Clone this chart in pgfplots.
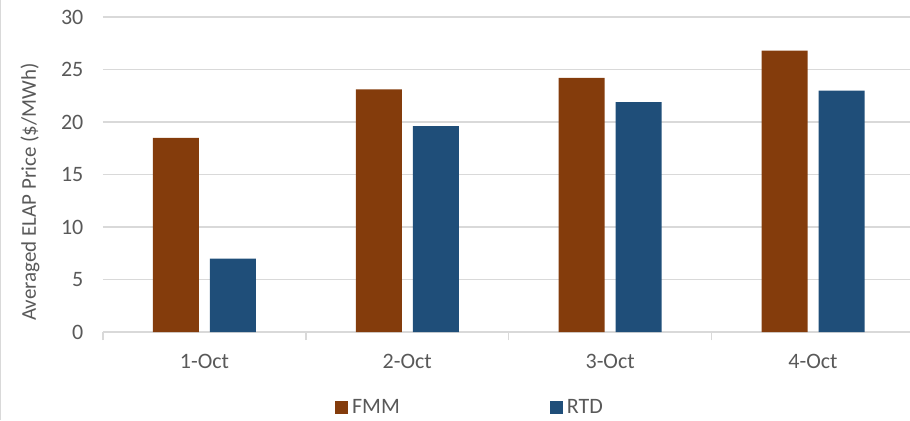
\documentclass[border=0pt]{standalone}
\usepackage{pgfplots}
\pgfplotsset{compat=1.18}
\usepackage{fontspec}
\setmainfont{Carlito}
\definecolor{fmm}{HTML}{843C0C}
\definecolor{rtd}{HTML}{1F4E79}
\definecolor{txt}{HTML}{595959}
\definecolor{gridc}{HTML}{D9D9D9}

\begin{document}
\begin{tikzpicture}
\path[use as bounding box] (0,0) rectangle (455pt,210pt);
\begin{axis}[
  at={(51.5pt,44pt)}, anchor=south west,
  scale only axis, width=403.5pt, height=157.5pt,
  ybar=5.5pt, bar width=23pt,
  xmin=-0.5, xmax=3.478, ymin=0, ymax=30,
  axis x line*=bottom, axis y line*=left,
  x axis line style={draw=gridc, line width=0.75pt},
  y axis line style={draw=none},
  xtick={0,1,2,3}, xticklabels={1-Oct,2-Oct,3-Oct,4-Oct},
  minor xtick={-0.5,0.5,1.5,2.5},
  ytick={0,5,...,30},
  /pgf/number format/assume math mode=true,
  major tick length=0pt,
  minor tick length=4pt,
  tick align=outside,
  minor x tick style={draw=gridc, line width=0.75pt},
  ymajorgrids, grid style={draw=gridc, line width=0.75pt},
  every tick label/.append style={font=\fontsize{11}{13}\selectfont, text=txt},
  yticklabel style={xshift=-6.3pt},
  xticklabel style={yshift=-7.8pt},
  ylabel={Averaged ELAP Price (\$/MWh)},
  ylabel style={at={(axis description cs:-0.0905,0.444)}, anchor=center,
    font=\fontsize{10.5}{12}\selectfont, text=txt},
  legend columns=2,
  legend style={at={(axis description cs:0.456,-0.241)}, anchor=center,
    draw=none, fill=none, font=\fontsize{11}{13}\selectfont, text=txt,
    /tikz/every even column/.append style={column sep=73pt}},
  legend image code/.code={\fill[#1] (0pt,-3.25pt) rectangle (6.5pt,3.25pt);},
]
\addplot[fill=fmm, draw=none] coordinates {(0,18.5) (1,23.1) (2,24.2) (3,26.8)};
\addlegendentry{FMM}
\addplot[fill=rtd, draw=none] coordinates {(0,7.0) (1,19.6) (2,21.9) (3,23.0)};
\addlegendentry{RTD}
\end{axis}
\draw[gridc, line width=0.5pt] (0.25pt,0) -- (0.25pt,210pt);
\end{tikzpicture}
\end{document}
